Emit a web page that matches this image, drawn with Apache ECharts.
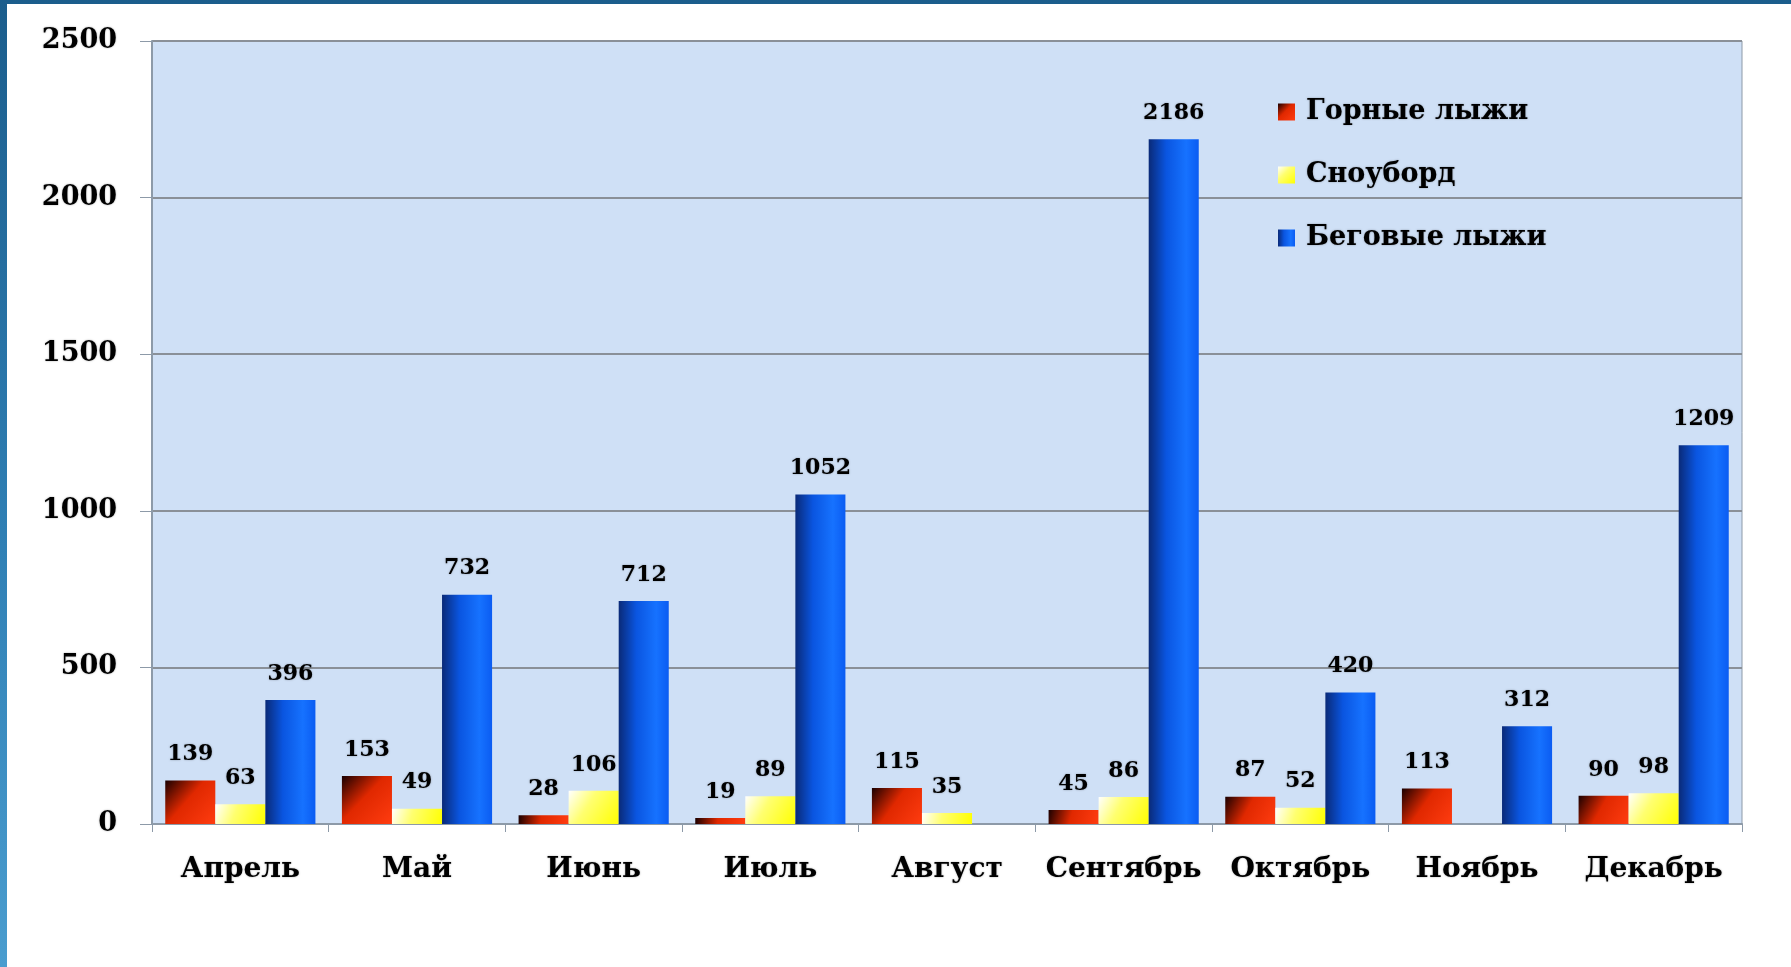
<!DOCTYPE html>
<html>
<head>
<meta charset="utf-8">
<script src="https://cdn.jsdelivr.net/npm/echarts@6/dist/echarts.min.js"></script>
<style>
html, body { margin: 0; padding: 0; background: #fff; }
#frame {
	position: absolute; left: 0; top: 0; width: 1791px; height: 967px;
	background: linear-gradient(180deg, #1b5d8c 0%, #2f7fb4 55%, #4a9dcf 100%);
}
#main {
	position: absolute; left: 7px; top: 4px; width: 1784px; height: 963px;
	background: #fff;
}
</style>
</head>
<body>
<div id="frame"></div>
<div id="main"></div>
<script>
var months = ['Апрель', 'Май', 'Июнь', 'Июль', 'Август', 'Сентябрь', 'Октябрь', 'Ноябрь', 'Декабрь'];
var alpineSki = [139, 153, 28, 19, 115, 45, 87, 113, 90];
var snowboard = [63, 49, 106, 89, 35, 86, 52, null, 98];
var crossSki = [396, 732, 712, 1052, null, 2186, 420, 312, 1209];
var seriesNames = ['Горные лыжи', 'Сноуборд', 'Беговые лыжи'];

var chartDom = document.getElementById('main');
var myChart = echarts.init(chartDom);
var option;

var font = 'DejaVu Serif';

function grad(x2, y2, stops) {
	return new echarts.graphic.LinearGradient(0, 0, x2, y2, stops);
}

var labelStyle = {
	show: true,
	position: 'top',
	distance: 15,
	color: '#000',
	fontFamily: font,
	fontWeight: 'bold',
	fontSize: 22,
	textShadowColor: 'rgba(0,0,0,0.35)',
	textShadowBlur: 2
};

option = {
	animation: false,
	grid: {
		left: 145,
		top: 37,
		right: 49,
		bottom: 143,
		show: true,
		backgroundColor: '#cfe0f6',
		borderColor: '#8d9aa8',
		borderWidth: 1
	},
	legend: {
		orient: 'vertical',
		left: 1266,
		top: 88,
		itemWidth: 17,
		itemHeight: 17,
		itemGap: 33,
		icon: 'rect',
		data: seriesNames,
		textStyle: {
			fontFamily: font,
			fontWeight: 'bold',
			fontSize: 27,
			lineHeight: 30,
			padding: [0, 0, 0, 6],
			color: '#000',
			textShadowColor: 'rgba(0,0,0,0.35)',
			textShadowBlur: 2
		}
	},
	xAxis: {
		type: 'category',
		data: months,
		axisLine: { lineStyle: { color: '#8d9aa8', width: 2 } },
		axisTick: { show: true, length: 8, lineStyle: { color: '#8d9aa8' } },
		axisLabel: {
			interval: 0,
			margin: 32,
			color: '#000',
			fontFamily: font,
			fontWeight: 'bold',
			fontSize: 28,
			textShadowColor: 'rgba(0,0,0,0.35)',
			textShadowBlur: 2
		}
	},
	yAxis: {
		type: 'value',
		min: 0,
		max: 2500,
		interval: 500,
		axisLine: { show: true, lineStyle: { color: '#8d9aa8', width: 2 } },
		axisTick: { show: true, length: 12, lineStyle: { color: '#8d9aa8' } },
		splitLine: { lineStyle: { color: '#8a9098', width: 2 } },
		axisLabel: {
			margin: 35,
			color: '#000',
			fontFamily: font,
			fontWeight: 'bold',
			fontSize: 27,
			formatter: function (v) { return String(v); },
			textShadowColor: 'rgba(0,0,0,0.35)',
			textShadowBlur: 2
		}
	},
	series: [{
		name: seriesNames[0],
		type: 'bar',
		data: alpineSki,
		barGap: '0%',
		barCategoryGap: '15%',
		label: labelStyle,
		itemStyle: {
			color: grad(1, 1, [
				{ offset: 0, color: '#1a0000' },
				{ offset: 0.45, color: '#e02800' },
				{ offset: 1, color: '#ff3c10' }
			])
		}
	}, {
		name: seriesNames[1],
		type: 'bar',
		data: snowboard,
		label: labelStyle,
		itemStyle: {
			color: grad(1, 1, [
				{ offset: 0, color: '#ffffff' },
				{ offset: 0.4, color: '#ffff70' },
				{ offset: 1, color: '#ffff00' }
			])
		}
	}, {
		name: seriesNames[2],
		type: 'bar',
		data: crossSki,
		label: labelStyle,
		itemStyle: {
			color: grad(1, 0, [
				{ offset: 0, color: '#0a2a78' },
				{ offset: 0.35, color: '#0a55e0' },
				{ offset: 0.75, color: '#1672ff' },
				{ offset: 1, color: '#0b5cf2' }
			])
		}
	}]
};

option && myChart.setOption(option);
</script>
</body>
</html>
